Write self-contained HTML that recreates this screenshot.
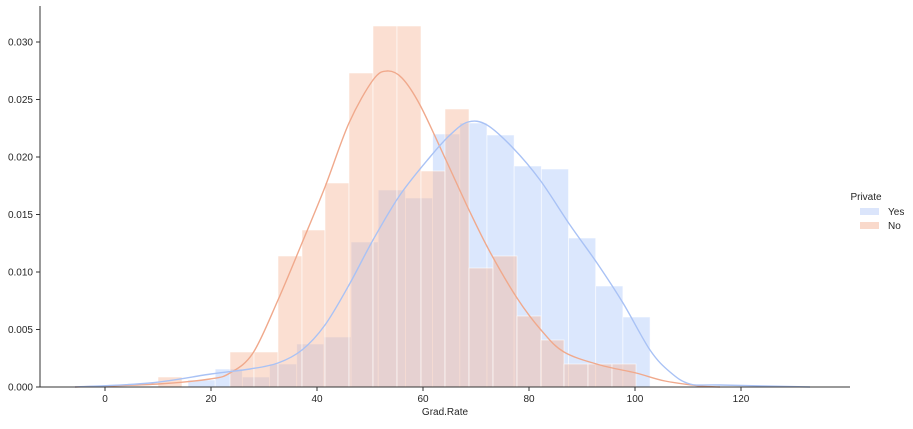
<!DOCTYPE html>
<html><head><meta charset="utf-8"><style>
body{margin:0;background:#fff}
text{font-family:"Liberation Sans",Arial,sans-serif;font-size:10px;fill:#262626}
</style></head><body>
<svg id="s" width="913" height="424" xmlns="http://www.w3.org/2000/svg">
<g id="bars"></g>
<path id="ko" fill="none" stroke="#f0a98c" stroke-width="1.4"/>
<path id="kb" fill="none" stroke="#a9c2f5" stroke-width="1.4"/>
<line x1="40" y1="6" x2="40" y2="387" stroke="#333" stroke-width="1"/>
<line x1="40" y1="387" x2="850" y2="387" stroke="#333" stroke-width="1"/>
<g id="ticks"></g>
<text x="445" y="415" text-anchor="middle">Grad.Rate</text>
<text x="866" y="200" text-anchor="middle">Private</text>
<rect x="860" y="208" width="19" height="7" fill="#dbe5fb"/>
<text x="888" y="215">Yes</text>
<rect x="860" y="222" width="19" height="7" fill="#f9d9cb"/>
<text x="888" y="229">No</text>
</svg>
<script>
var ns="http://www.w3.org/2000/svg",g=document.getElementById('bars'),t=document.getElementById('ticks');
function r(x1,x2,top,fill){var e=document.createElementNS(ns,'rect');e.setAttribute('x',x1);e.setAttribute('y',top);e.setAttribute('width',x2-x1);e.setAttribute('height',387-top);e.setAttribute('fill',fill);e.setAttribute('stroke','#fff');e.setAttribute('stroke-opacity','0.7');e.setAttribute('stroke-width','0.8');g.appendChild(e);}
var bt=[380,369,377,364,344,337,242,190,198,134,123,135,166,169,238,286,317];
for(var i=0;i<bt.length;i++){var a=188+i*27.18;r(a,a+27.18,bt[i],'rgba(180,204,250,0.48)');}
var oe=[158,182,206,230,254,278,302,325,349,373,397,421,445,469,493,517,541,564,588,612,636];
var ot=[377,387,387,352,352,256,230,183,73,26,26,171,109,268,256,316,340,364,364,364];
for(var i=0;i<ot.length;i++){if(ot[i]<387)r(oe[i],oe[i+1],ot[i],'rgba(245,178,148,0.42)');}
function path(p){var d='M'+p[0][0]+','+p[0][1];for(var i=0;i<p.length-1;i++){var p0=p[i-1]||p[i],p1=p[i],p2=p[i+1],p3=p[i+2]||p2;d+=' C'+(p1[0]+(p2[0]-p0[0])/6)+','+(p1[1]+(p2[1]-p0[1])/6)+' '+(p2[0]-(p3[0]-p1[0])/6)+','+(p2[1]-(p3[1]-p1[1])/6)+' '+p2[0]+','+p2[1];}return d;}
document.getElementById('ko').setAttribute('d',path([[75,387],[158,384],[210,379],[230,373],[253,353],[278,300],[302,243],[325,187],[349,123],[373,80],[387,71],[402,78],[420,105],[445,158],[469,210],[490,252],[517,298],[541,330],[564,352],[600,365],[636,373],[665,381],[700,386],[720,387]]));
document.getElementById('kb').setAttribute('d',path([[75,387],[150,383],[211,374],[250,369],[278,363],[302,350],[325,325],[349,285],[373,240],[400,195],[430,157],[450,135],[468,122],[487,125],[513,148],[540,180],[570,225],[597,263],[623,303],[650,350],[670,372],[690,384],[720,385],[810,387]]));
var xt=[[0,105],[20,211],[40,317],[60,423],[80,529],[100,635],[120,741]];
xt.forEach(function(v){var l=document.createElementNS(ns,'line');l.setAttribute('x1',v[1]);l.setAttribute('x2',v[1]);l.setAttribute('y1',387);l.setAttribute('y2',391);l.setAttribute('stroke','#333');t.appendChild(l);var s=document.createElementNS(ns,'text');s.setAttribute('x',v[1]);s.setAttribute('y',402);s.setAttribute('text-anchor','middle');s.textContent=v[0];t.appendChild(s);});
for(var k=0;k<7;k++){var y=387-k*57.5;var l=document.createElementNS(ns,'line');l.setAttribute('x1',36);l.setAttribute('x2',40);l.setAttribute('y1',y);l.setAttribute('y2',y);l.setAttribute('stroke','#333');t.appendChild(l);var s=document.createElementNS(ns,'text');s.setAttribute('x',33);s.setAttribute('y',y+3.5);s.setAttribute('text-anchor','end');s.textContent=(k*0.005).toFixed(3);t.appendChild(s);}
</script>
</body></html>
